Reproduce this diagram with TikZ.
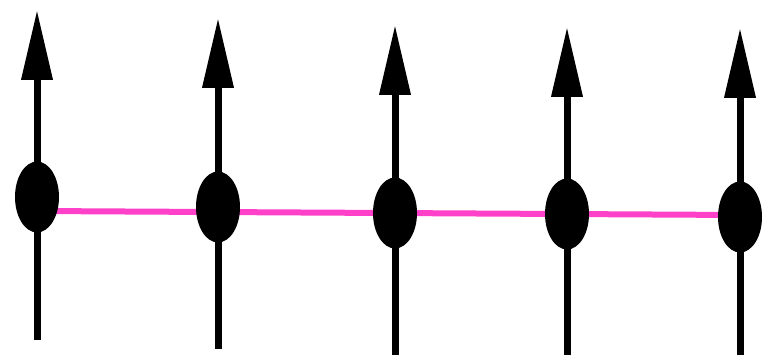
\documentclass[tikz,border=0pt]{standalone}
\usetikzlibrary{shapes.geometric,arrows.meta}
\definecolor{bondpink}{RGB}{255,64,200}
\tikzset{
  spinline/.style={line width=7pt,-{Triangle[length=70pt,width=30pt]}},
  spinball/.style={ellipse,fill=black,inner sep=0pt,minimum width=44pt,minimum height=71pt},
  bond/.style={bondpink,line width=6pt}
}
\begin{document}
\begin{tikzpicture}[x=1pt,y=-1pt]
\useasboundingbox (0,0) rectangle (762,355);
% bond (behind)
\coordinate (pa) at (37,211);
\coordinate (pb) at (740,215);
\draw[bond] (pa) -- (pb);
% spins
\foreach \i/\x/\t/\c/\b in {1/37/10/197/340, 2/218/18/207/349, 3/395/25/213/360, 4/567/27/214/360, 5/740/28/217/360}{
  \coordinate (b\i) at (\x,\b);
  \coordinate (t\i) at (\x,\t);
  \draw[spinline] (b\i) -- (t\i);
  \node[spinball] (s\i) at (\x,\c) {};
}
\end{tikzpicture}
\end{document}
